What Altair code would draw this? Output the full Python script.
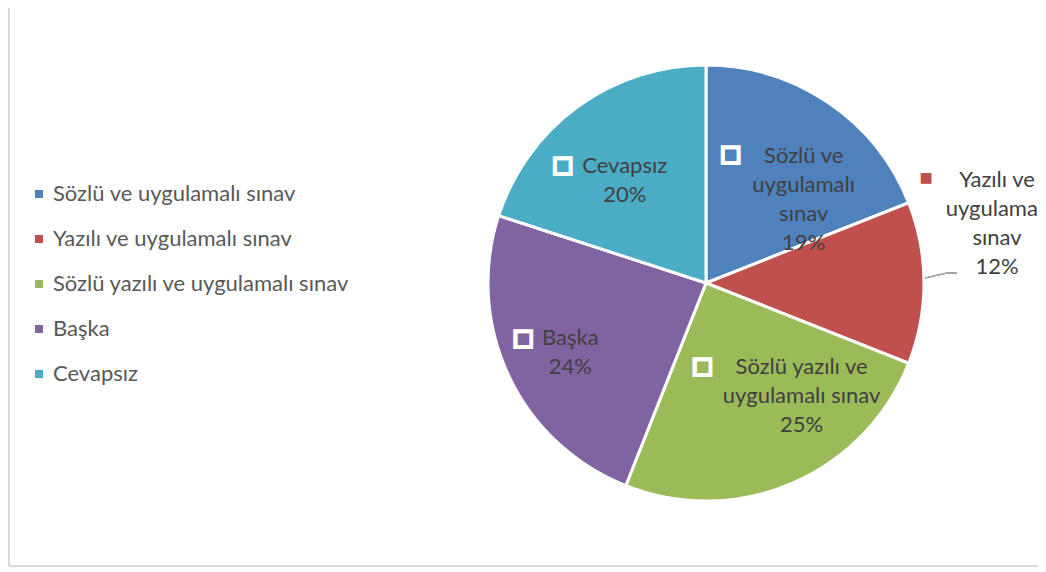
import altair as alt
import pandas as pd

# ---- data ----
categories = [
    "Sözlü ve uygulamalı sınav",
    "Yazılı ve uygulamalı sınav",
    "Sözlü yazılı ve uygulamalı sınav",
    "Başka",
    "Cevapsız",
]
values = [19, 12, 25, 24, 20]
wrapped_names = [
    "Sözlü ve\nuygulamalı\nsınav",
    "Yazılı ve\nuygulamalı\nsınav",
    "Sözlü yazılı ve\nuygulamalı sınav",
    "Başka",
    "Cevapsız",
]
colors = ["#4F81BD", "#C0504D", "#9BBB59", "#8064A2", "#4BACC6"]

total = sum(values)
labels = [w + "\n" + f"{round(100 * v / total)}%" for w, v in zip(wrapped_names, values)]

df = pd.DataFrame({"cat": categories, "value": values, "idx": list(range(len(values))), "label": labels})

W, H = 1030, 559
CX, CY, R = 698, 275, 218
FONT = "Lato"
FS = 22

color_scale = alt.Scale(domain=categories, range=colors)
theta_scale = alt.Scale(domain=[0, total])

base = alt.Chart(df)

pie = base.mark_arc(radius=R, stroke="white", strokeWidth=3).encode(
    theta=alt.Theta("value:Q", stack=True, scale=theta_scale),
    order=alt.Order("idx:Q"),
    color=alt.Color(
        "cat:N",
        scale=color_scale,
        legend=alt.Legend(
            title=None,
            orient="none",
            legendX=20,
            legendY=175,
            symbolType="square",
            symbolSize=64,
            symbolStrokeWidth=0,
            symbolOpacity=1,
            labelFont=FONT,
            labelFontSize=FS,
            labelColor="#595959",
            labelLimit=500,
            labelOffset=3,
            rowPadding=23,
        ),
    ),
    x=alt.value(CX),
    y=alt.value(CY),
)

mid_base = (
    base.transform_window(cum="sum(value)", sort=[alt.SortField("idx")])
    .transform_calculate(mid="datum.cum - datum.value / 2")
)

# per-slice label placement tweaks: (label radius, text dx, dy, marker dx, dy, inside?)
place = [
    (140, 19, -11, -54, -13, True),
    (290, 1, -103, -70, -105, False),
    (140, 40, -44, -59, -45, True),
    (140, -9, -5, -56, -5, True),
    (140, 1, -4, -61, -5, True),
]

layers = [pie]
for i, (lr, tdx, tdy, mdx, mdy, inside) in enumerate(place):
    sub = mid_base.transform_filter(alt.datum.idx == i)
    enc = dict(
        theta=alt.Theta("mid:Q", scale=theta_scale),
        x=alt.value(CX),
        y=alt.value(CY),
    )
    txt = sub.mark_text(
        radius=lr, dx=tdx, dy=tdy, align="center", baseline="middle",
        lineBreak="\n", lineHeight=29, font=FONT, fontSize=FS, color="#404040",
    ).encode(text="label:N", **enc)
    if inside:
        outer = sub.mark_text(
            radius=lr, dx=mdx, dy=mdy, align="center", baseline="middle",
            font="DejaVu Sans", fontSize=26, color="white",
        ).encode(text=alt.value("■"), **enc)
        inner = sub.mark_text(
            radius=lr, dx=mdx, dy=mdy, align="center", baseline="middle",
            font="DejaVu Sans", fontSize=15,
        ).encode(text=alt.value("■"), color=alt.Color("cat:N", scale=color_scale, legend=None), **enc)
        layers += [txt, outer, inner]
    else:
        mk = sub.mark_text(
            radius=lr, dx=mdx, dy=mdy, align="center", baseline="middle",
            font="DejaVu Sans", fontSize=14,
        ).encode(text=alt.value("■"), color=alt.Color("cat:N", scale=color_scale, legend=None), **enc)
        layers += [txt, mk]

# leader line for the outside label
leader1 = base.mark_rule(color="#A6A6A6", strokeWidth=1.2).encode(
    x=alt.value(917), y=alt.value(270), x2=alt.value(939), y2=alt.value(265)
)
leader2 = base.mark_rule(color="#A6A6A6", strokeWidth=1.2).encode(
    x=alt.value(939), y=alt.value(265), x2=alt.value(949), y2=alt.value(265)
)
# chart frame (left and bottom edges visible)
frame_l = base.mark_rule(color="#D9D9D9", strokeWidth=1.5).encode(
    x=alt.value(1), y=alt.value(0), y2=alt.value(H - 1)
)
frame_b = base.mark_rule(color="#D9D9D9", strokeWidth=1.5).encode(
    x=alt.value(1), x2=alt.value(W), y=alt.value(H - 1)
)
layers += [leader1, leader2, frame_l, frame_b]

chart = (
    alt.layer(*layers)
    .properties(width=W, height=H, autosize=alt.AutoSizeParams(type="none"), padding=0, background="white")
    .configure_view(stroke=None)
)

chart.save("out.html", embed_options={"renderer": "svg", "actions": False})
